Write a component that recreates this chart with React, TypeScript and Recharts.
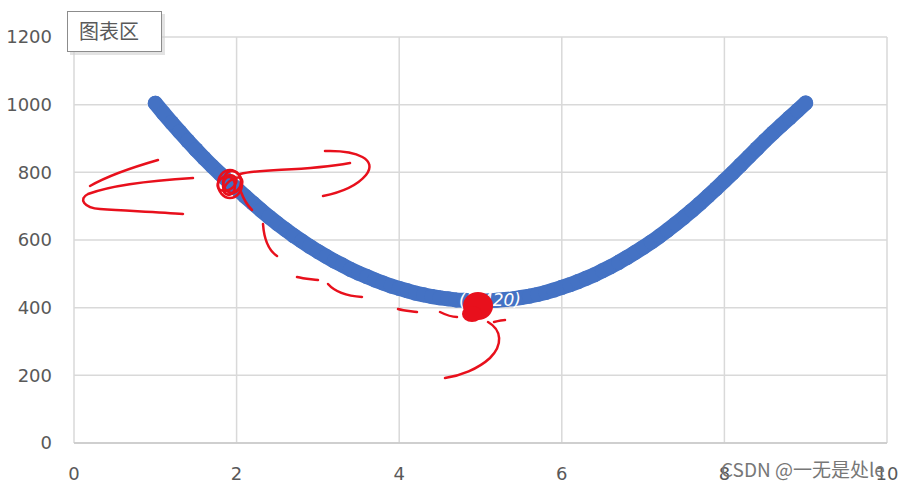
import { ScatterChart, Scatter, XAxis, YAxis, CartesianGrid } from 'recharts';

// values, step 0.1 along x
const xValues = [
  1.0, 1.1, 1.2, 1.3, 1.4, 1.5, 1.6, 1.7, 1.8, 1.9,
  2.0, 2.1, 2.2, 2.3, 2.4, 2.5, 2.6, 2.7, 2.8, 2.9,
  3.0, 3.1, 3.2, 3.3, 3.4, 3.5, 3.6, 3.7, 3.8, 3.9,
  4.0, 4.1, 4.2, 4.3, 4.4, 4.5, 4.6, 4.7, 4.8, 4.9,
  5.0, 5.1, 5.2, 5.3, 5.4, 5.5, 5.6, 5.7, 5.8, 5.9,
  6.0, 6.1, 6.2, 6.3, 6.4, 6.5, 6.6, 6.7, 6.8, 6.9,
  7.0, 7.1, 7.2, 7.3, 7.4, 7.5, 7.6, 7.7, 7.8, 7.9,
  8.0, 8.1, 8.2, 8.3, 8.4, 8.5, 8.6, 8.7, 8.8, 8.9,
  9.0,
];

const yValues = [
  1004, 975, 947, 920, 893, 867, 842, 818, 795, 773,
  752, 730, 709, 688, 668, 649, 631, 613, 597, 581,
  566, 552, 538, 526, 513, 502, 492, 482, 473, 464,
  457, 450, 443, 438, 433, 429, 426, 423, 422, 420,
  420, 420, 422, 424, 426, 430, 434, 439, 445, 452,
  460, 468, 477, 487, 497, 509, 521, 534, 548, 563,
  578, 594, 611, 629, 648, 667, 687, 708, 730, 752,
  775, 798, 822, 846, 870, 894, 917, 939, 961, 983,
  1005,
];

const xTicks = [0, 2, 4, 6, 8, 10];
const yTicks = [0, 200, 400, 600, 800, 1000, 1200];

const data = xValues.map((x, i) => ({ x, y: yValues[i] }));

const BLUE = '#4472C4';
const RED = '#e8101c';
const tickStyle = { fontFamily: 'DejaVu Sans', fontSize: 18, fill: '#595959' };

function Scribbles() {
  return (
    <svg
      width={909}
      height={490}
      style={{ position: 'absolute', left: 0, top: 0, pointerEvents: 'none' }}
    >
      {/* "图表区" hover box */}
      <rect x={70} y={14} width={95} height={41} fill="#d0d0d0" opacity={0.6} />
      <rect x={67.5} y={11.5} width={94} height={40} fill="#fff" stroke="#8c8c8c" />
      <text
        x={79}
        y={39}
        fontFamily="'Noto Sans CJK SC'"
        fontSize={20}
        fill="#595959"
      >
        图表区
      </text>

      {/* white label on the curve */}
      <text
        x={490}
        y={306}
        textAnchor="middle"
        fontFamily="'DejaVu Sans'"
        fontStyle="italic"
        fontSize={17}
        fill="#fff"
      >
        (5,420)
      </text>

      <g fill="none" stroke={RED} strokeWidth={2.5} strokeLinecap="round">
        <path d="M158,160 C130,168 104,178 90,186" />
        <path d="M193,178 C160,180 112,185 88,194 C78,199 84,208 100,209 C130,211 160,212 183,214" />
        <path d="M240,174 C265,168 300,172 350,163" />
        <path d="M325,151 C358,150 378,160 366,175 C356,187 338,193 323,196" />
        <ellipse cx={230} cy={184} rx={12} ry={14} />
        <ellipse cx={232} cy={182} rx={9} ry={11} />
        <ellipse cx={229} cy={186} rx={6} ry={9} />
        <ellipse cx={227} cy={183} rx={10} ry={7} transform="rotate(-30 227 183)" />
        <ellipse cx={233} cy={186} rx={11} ry={6} transform="rotate(-40 233 186)" />
        <path d="M241,192 C244,200 248,206 252,210" />
        <path d="M263,224 C264,238 268,250 277,256" />
        <path d="M297,277 C305,279 312,279 318,280" />
        <path d="M328,284 C335,292 348,296 362,297" />
        <path d="M398,309 C405,311 411,311 417,312" />
        <path d="M440,312 C446,315 452,317 457,317" />
        <path d="M488,322 C502,330 503,345 490,358 C478,369 460,376 445,378" />
        <path d="M494,322 C498,321 502,320 505,320" />
      </g>
      <ellipse cx={478} cy={306} rx={15} ry={14} fill={RED} />
      <ellipse cx={472} cy={314} rx={10} ry={8} fill={RED} />

      <text
        x={721}
        y={477}
        fontFamily="'Noto Sans CJK SC'"
        fontSize={19}
        fill="#777"
      >
        CSDN @一无是处le
      </text>
    </svg>
  );
}

export default function App() {
  return (
    <div style={{ position: 'fixed', left: 0, top: 0, width: 909, height: 490, background: '#fff' }}>
      <ScatterChart
        width={909}
        height={490}
        margin={{ top: 37, right: 22, bottom: 0, left: 0 }}
      >
        <CartesianGrid stroke="#d9d9d9" strokeWidth={1.5} />
        <XAxis
          type="number"
          dataKey="x"
          domain={[0, 10]}
          ticks={xTicks}
          height={47}
          tickLine={false}
          tickSize={0}
          tickMargin={24}
          axisLine={{ stroke: '#c8c8c8', strokeWidth: 1.5 }}
          tick={tickStyle}
        />
        <YAxis
          type="number"
          dataKey="y"
          domain={[0, 1200]}
          ticks={yTicks}
          width={74}
          tickLine={false}
          tickSize={0}
          tickMargin={22}
          axisLine={false}
          tick={tickStyle}
        />
        <Scatter
          data={data}
          fill={BLUE}
          line={{ stroke: BLUE, strokeWidth: 15, strokeLinecap: 'round', strokeLinejoin: 'round' }}
          shape={(p: any) => <circle cx={p.cx} cy={p.cy} r={7.5} fill={BLUE} />}
          isAnimationActive={false}
        />
      </ScatterChart>
      <Scribbles />
    </div>
  );
}
